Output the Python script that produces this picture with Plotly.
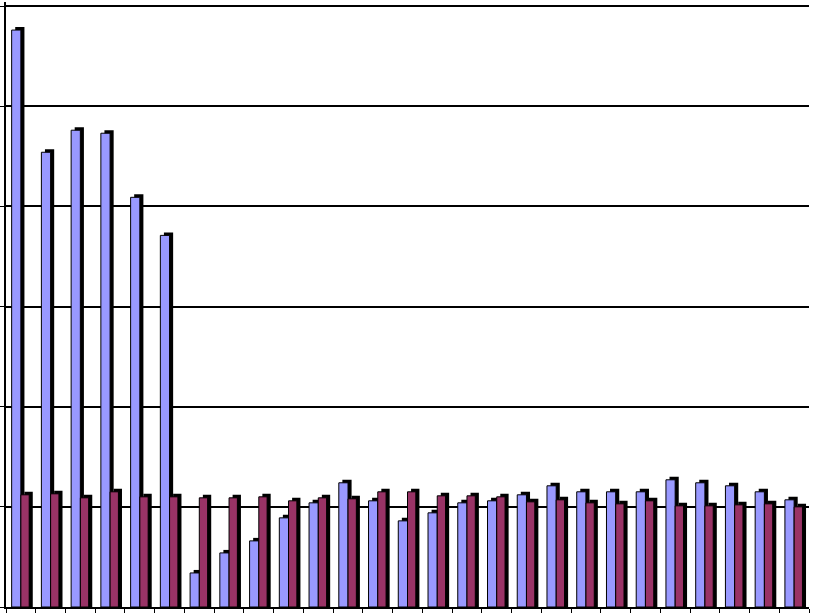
import plotly.graph_objects as go

# 27 categories, unlabeled in the source chart
categories = [str(i) for i in range(1, 28)]

series_a = [576, 454, 476, 473, 409, 371, 34, 54, 66, 89,
            104, 124, 106, 86, 94, 104, 106, 112, 121, 115,
            115, 115, 127, 124, 121, 115, 107]
series_b = [112, 113, 109, 115, 110, 110, 109, 109, 110, 106,
            109, 108, 115, 115, 111, 111, 110, 105, 107, 104,
            103, 106, 101, 101, 102, 103, 100]

DEPTH = 3  # fake 3-D depth, in axis units (~px)

fig = go.Figure()
for vals, color, off, w in [(series_a, "#9999FF", -0.31, 0.31),
                            (series_b, "#993366", 0.0, 0.28)]:
    # dark side/top behind the face
    fig.add_trace(go.Bar(
        x=categories, y=[v + DEPTH for v in vals],
        width=w, offset=off + 0.12,
        marker=dict(color="black", line=dict(width=0)),
        hoverinfo="skip",
    ))
    fig.add_trace(go.Bar(
        x=categories, y=vals,
        width=w, offset=off,
        marker=dict(color=color, line=dict(color="black", width=1)),
    ))

fig.update_layout(
    width=815, height=613,
    margin=dict(l=4, r=6, t=2, b=5),
    paper_bgcolor="white", plot_bgcolor="white",
    showlegend=False,
    barmode="overlay",
)
fig.update_xaxes(
    showline=True, linecolor="black", linewidth=2,
    ticks="outside", tickson="boundaries", ticklen=4, tickcolor="black",
    showticklabels=False, showgrid=False,
)
fig.update_yaxes(
    range=[0, 604], dtick=100,
    showline=True, linecolor="black", linewidth=2,
    ticks="outside", ticklen=4, tickcolor="black",
    showticklabels=False,
    showgrid=True, gridcolor="black", gridwidth=1.5, zeroline=False,
)

fig.write_html("out.html", config={"displayModeBar": False},
               post_script="document.body.style.margin='0';")
